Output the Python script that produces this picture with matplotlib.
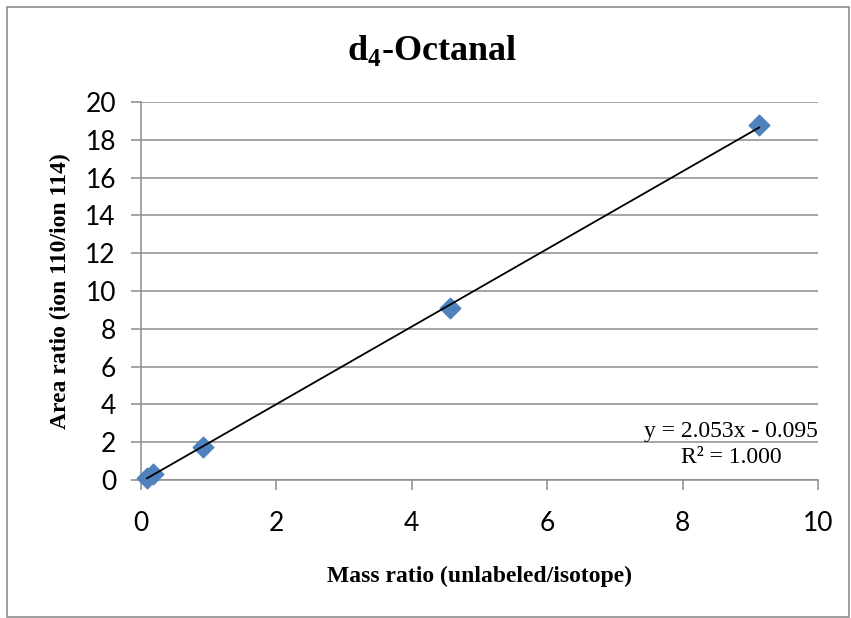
import matplotlib
matplotlib.use("Agg")
import matplotlib.pyplot as plt
from matplotlib.patches import Rectangle

plt.rcParams["mathtext.fontset"] = "custom"
plt.rcParams["mathtext.rm"] = "Liberation Serif"
plt.rcParams["mathtext.bf"] = "Liberation Serif:bold"

# mass ratio vs area ratio for the d4-octanal calibration
mass_ratio = [0.09, 0.18, 0.91, 4.57, 9.13]
area_ratio = [0.10, 0.30, 1.72, 9.10, 18.78]

slope = 2.053
intercept = -0.095
r_squared = 1.000

x_ticks = [0, 2, 4, 6, 8, 10]
y_ticks = [0, 2, 4, 6, 8, 10, 12, 14, 16, 18, 20]

grid_color = "#8c8c8c"
marker_color = "#4f81bd"

fig = plt.figure(figsize=(8.51, 6.18), dpi=100)
fig.patches.append(Rectangle((7 / 851, 1 / 618), 842 / 851, 610 / 618,
                             transform=fig.transFigure, fill=False,
                             edgecolor="#8c8c8c", linewidth=1.2))

ax = fig.add_axes([141 / 851, 1 - 480 / 618, 677 / 851, 378 / 618])
ax.set_xlim(0, 10)
ax.set_ylim(0, 20)

ax.scatter(mass_ratio, area_ratio, marker="D", s=110, color=marker_color,
           edgecolors=marker_color, zorder=3, clip_on=False)

# linear trendline across the measured range
x0, x1 = min(mass_ratio), max(mass_ratio)
ax.plot([x0, x1], [slope * x0 + intercept, slope * x1 + intercept],
        color="black", linewidth=1.3, zorder=4)

ax.set_xticks(x_ticks)
ax.set_yticks(y_ticks)
ax.grid(axis="y", color=grid_color, linewidth=1.1)
ax.set_axisbelow(True)
for side in ("top", "right"):
    ax.spines[side].set_visible(False)
for side in ("left", "bottom"):
    ax.spines[side].set_color(grid_color)
    ax.spines[side].set_linewidth(1.1)
ax.tick_params(axis="both", color=grid_color, width=1.1, length=7,
               labelsize=19, labelcolor="black")
ax.tick_params(axis="x", pad=15.5)
ax.tick_params(axis="y", pad=11)
for lbl in ax.get_xticklabels() + ax.get_yticklabels():
    lbl.set_fontfamily("Lato")

fig.text(432 / 851, 1 - 51 / 618, r"d$_{\mathbf{4}}$-Octanal", fontsize=26,
         fontweight="bold", family="Liberation Serif", ha="center", va="center")
ax.set_xlabel("Mass ratio (unlabeled/isotope)", fontsize=17, fontweight="bold",
              family="Liberation Serif", labelpad=21)
ax.set_ylabel("Area ratio (ion 110/ion 114)", fontsize=17, fontweight="bold",
              family="Liberation Serif", labelpad=10.5)

eq = f"y = {slope:.3f}x - {abs(intercept):.3f}\nR² = {r_squared:.3f}"
ax.text(10, 1.9, eq, ha="right", va="center", multialignment="center",
        fontsize=17, family="Liberation Serif", linespacing=1.32)

fig.savefig("out.png", dpi=100)
